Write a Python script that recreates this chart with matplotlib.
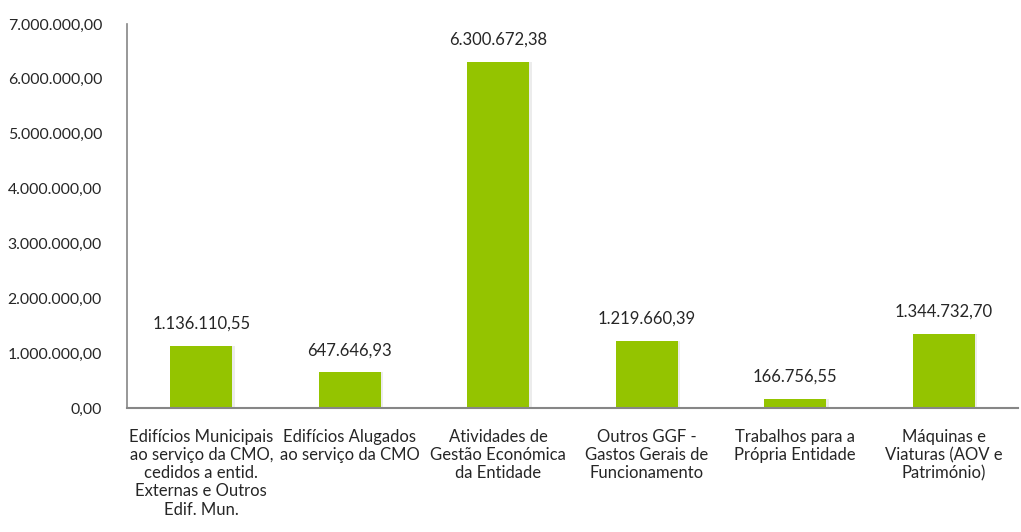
import matplotlib.pyplot as plt
from matplotlib.ticker import FuncFormatter

categories = [
    "Edifícios Municipais\nao serviço da CMO,\ncedidos a entid.\nExternas e Outros\nEdif. Mun.",
    "Edifícios Alugados\nao serviço da CMO",
    "Atividades de\nGestão Económica\nda Entidade",
    "Outros GGF -\nGastos Gerais de\nFuncionamento",
    "Trabalhos para a\nPrópria Entidade",
    "Máquinas e\nViaturas (AOV e\nPatrimónio)",
]
values = [1136110.55, 647646.93, 6300672.38, 1219660.39, 166756.55, 1344732.70]


def fmt_pt(v):
    # portuguese style: 1.234.567,89
    s = f"{v:,.2f}"
    return s.replace(",", "X").replace(".", ",").replace("X", ".")


plt.rcParams['font.family'] = ['Lato', 'DejaVu Sans']

fig = plt.figure(figsize=(10.21, 5.32), dpi=100)
ax = fig.add_axes([127 / 1021, 1 - 408 / 532, 891 / 1021, 384 / 532])

x = range(len(categories))
# faint shadow on the right side of each bar
ax.bar([xi + 0.015 for xi in x], values, width=0.42, color="#ececec", zorder=2)
ax.bar(x, values, width=0.42, color="#94c400", zorder=3)

for xi, v in zip(x, values):
    ax.text(xi, v + 260000, fmt_pt(v), ha="center", va="bottom",
            fontsize=12, color="#262626")

ax.set_xlim(-0.5, len(categories) - 0.5)
ax.set_ylim(0, 7000000)
ax.set_yticks(range(0, 7000001, 1000000))
ax.yaxis.set_major_formatter(FuncFormatter(lambda v, p: fmt_pt(v)))
ax.set_xticks(list(x))
ax.set_xticklabels(categories, fontsize=12, color="#262626", linespacing=1.17)
ax.tick_params(axis="y", labelsize=11.4, labelcolor="#262626", length=0, pad=18)
ax.tick_params(axis="x", length=0, pad=15)

for s in ["top", "right"]:
    ax.spines[s].set_visible(False)
ax.spines["left"].set_color("#868686")
ax.spines["bottom"].set_color("#868686")
ax.spines["left"].set_linewidth(1.2)
ax.spines["bottom"].set_linewidth(1.5)
ax.spines["bottom"].set_zorder(4)

fig.savefig("out.png", dpi=100)
